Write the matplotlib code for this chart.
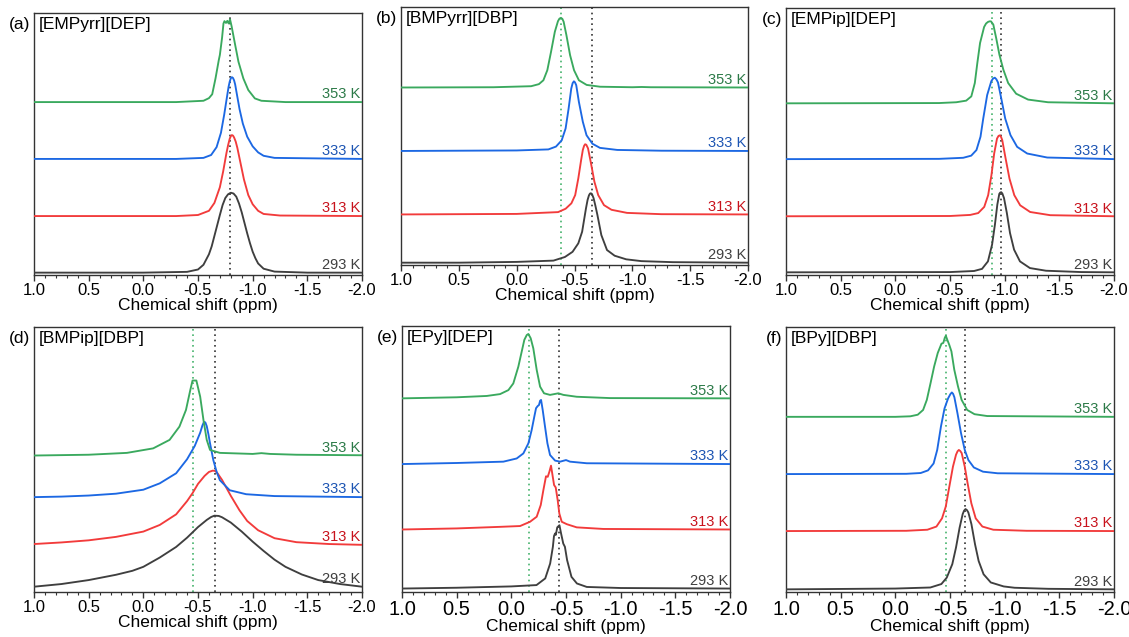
import matplotlib
matplotlib.use('Agg')
import matplotlib.pyplot as plt
from matplotlib.ticker import MultipleLocator, FormatStrFormatter

plt.rcParams['font.family'] = ['Liberation Sans', 'DejaVu Sans']
plt.rcParams['axes.unicode_minus'] = False

# ---- data: (shift ppm, intensity above baseline) ----
temps = ['293 K', '313 K', '333 K', '353 K']
titles = ['[EMPyrr][DEP]', '[BMPyrr][DBP]', '[EMPip][DEP]',
          '[BMPip][DBP]', '[EPy][DEP]', '[BPy][DBP]']
letters = ['(a)', '(b)', '(c)', '(d)', '(e)', '(f)']
green_ref = [None, -0.38, -0.88, -0.455, -0.165, -0.465]
black_ref = [-0.795, -0.65, -0.963, -0.656, -0.44, -0.64]

A_293 = [(1.0, 0.0), (0.0, 0.0), (-0.40, 0.003), (-0.50, 0.012), (-0.55, 0.03), (-0.60, 0.07), (-0.625, 0.10),
         (-0.65, 0.14), (-0.675, 0.18), (-0.70, 0.22), (-0.725, 0.258), (-0.75, 0.285), (-0.775, 0.299),
         (-0.80, 0.305), (-0.825, 0.302), (-0.85, 0.29), (-0.875, 0.264), (-0.90, 0.23), (-0.925, 0.19),
         (-0.95, 0.15), (-0.975, 0.113), (-1.00, 0.08), (-1.025, 0.055), (-1.05, 0.035), (-1.10, 0.015),
         (-1.20, 0.004), (-1.50, 0.0), (-2.0, 0.0)]
A_313 = [(1.0, 0.0), (-0.3, 0.0), (-0.5, 0.004), (-0.6, 0.02), (-0.65, 0.05), (-0.70, 0.11), (-0.73, 0.17),
         (-0.76, 0.24), (-0.775, 0.27), (-0.79, 0.295), (-0.80, 0.305), (-0.81, 0.309), (-0.82, 0.307),
         (-0.83, 0.30), (-0.845, 0.284), (-0.86, 0.26), (-0.89, 0.20), (-0.92, 0.14), (-0.96, 0.08),
         (-1.00, 0.045), (-1.05, 0.02), (-1.10, 0.008), (-1.25, 0.002), (-2.0, 0.0)]
A_333 = [(1.0, 0.0), (-0.3, 0.0), (-0.55, 0.004), (-0.62, 0.015), (-0.67, 0.045), (-0.71, 0.10), (-0.74, 0.17),
         (-0.77, 0.25), (-0.78, 0.276), (-0.79, 0.295), (-0.80, 0.308), (-0.81, 0.312), (-0.82, 0.309),
         (-0.83, 0.30), (-0.84, 0.284), (-0.85, 0.26), (-0.88, 0.19), (-0.91, 0.135), (-0.95, 0.085),
         (-1.00, 0.048), (-1.05, 0.025), (-1.10, 0.012), (-1.2, 0.004), (-2.0, 0.0)]
A_353 = [(1.0, 0.0), (-0.3, 0.0), (-0.55, 0.005), (-0.60, 0.015), (-0.63, 0.03), (-0.66, 0.09), (-0.69, 0.16),
         (-0.70, 0.18), (-0.72, 0.245), (-0.733, 0.30), (-0.742, 0.309), (-0.756, 0.302), (-0.768, 0.31),
         (-0.78, 0.30), (-0.793, 0.316), (-0.808, 0.288), (-0.84, 0.218), (-0.87, 0.154), (-0.915, 0.09),
         (-0.96, 0.046), (-1.02, 0.014), (-1.08, 0.005), (-1.3, 0.0), (-2.0, 0.0)]

B_293 = [(1.0, 0.0), (0.5, 0.0), (0.0, 0.003), (-0.318, 0.008), (-0.417, 0.022), (-0.483, 0.042), (-0.533, 0.075),
         (-0.566, 0.12), (-0.599, 0.21), (-0.613, 0.243), (-0.625, 0.261), (-0.634, 0.268), (-0.642, 0.269),
         (-0.651, 0.266), (-0.665, 0.25), (-0.680, 0.222), (-0.698, 0.185), (-0.732, 0.107), (-0.781, 0.049),
         (-0.847, 0.027), (-0.947, 0.013), (-1.079, 0.006), (-1.35, 0.002), (-2.0, 0.0)]
B_313 = [(1.0, 0.0), (0.0, 0.002), (-0.358, 0.009), (-0.423, 0.022), (-0.473, 0.043), (-0.506, 0.075),
         (-0.533, 0.14), (-0.557, 0.21), (-0.572, 0.25), (-0.583, 0.266), (-0.592, 0.272), (-0.602, 0.27),
         (-0.617, 0.256), (-0.640, 0.204), (-0.672, 0.127), (-0.705, 0.075), (-0.755, 0.036), (-0.820, 0.018),
         (-0.954, 0.006), (-1.25, 0.001), (-2.0, 0.0)]
B_333 = [(1.0, 0.0), (0.0, 0.002), (-0.274, 0.006), (-0.34, 0.017), (-0.389, 0.041), (-0.423, 0.087),
         (-0.449, 0.164), (-0.472, 0.242), (-0.484, 0.263), (-0.495, 0.27), (-0.504, 0.266), (-0.515, 0.255),
         (-0.538, 0.19), (-0.572, 0.113), (-0.604, 0.061), (-0.655, 0.028), (-0.72, 0.012), (-0.869, 0.004),
         (-1.25, 0.001), (-2.0, 0.0)]
B_353 = [(1.0, 0.0), (0.2, 0.001), (-0.125, 0.005), (-0.192, 0.013), (-0.231, 0.028), (-0.265, 0.067),
         (-0.297, 0.138), (-0.330, 0.216), (-0.357, 0.257), (-0.370, 0.267), (-0.383, 0.27), (-0.395, 0.266),
         (-0.406, 0.255), (-0.430, 0.203), (-0.462, 0.125), (-0.496, 0.067), (-0.538, 0.028), (-0.605, 0.01),
         (-0.721, 0.003), (-1.0, 0.001), (-1.08, 0.002), (-1.16, 0.001), (-2.0, 0.0)]

C_293 = [(1.0, 0.0), (-0.5, 0.001), (-0.720, 0.005), (-0.793, 0.013), (-0.847, 0.041), (-0.885, 0.104),
         (-0.911, 0.179), (-0.933, 0.254), (-0.951, 0.294), (-0.960, 0.299), (-0.969, 0.30), (-0.979, 0.295),
         (-0.994, 0.278), (-1.020, 0.222), (-1.049, 0.147), (-1.086, 0.085), (-1.140, 0.041), (-1.231, 0.016),
         (-1.378, 0.006), (-1.7, 0.001), (-2.0, 0.0)]
C_313 = [(1.0, 0.0), (-0.5, 0.001), (-0.685, 0.005), (-0.758, 0.012), (-0.813, 0.035), (-0.849, 0.079),
         (-0.879, 0.154), (-0.904, 0.235), (-0.930, 0.291), (-0.944, 0.301), (-0.956, 0.303), (-0.967, 0.297),
         (-0.978, 0.285), (-1.006, 0.222), (-1.044, 0.141), (-1.088, 0.079), (-1.142, 0.041), (-1.233, 0.016),
         (-1.417, 0.004), (-2.0, 0.0)]
C_333 = [(1.0, 0.0), (-0.4, 0.001), (-0.621, 0.005), (-0.694, 0.013), (-0.742, 0.034), (-0.779, 0.084),
         (-0.804, 0.152), (-0.840, 0.24), (-0.878, 0.292), (-0.894, 0.302), (-0.91, 0.305), (-0.924, 0.299),
         (-0.939, 0.287), (-0.969, 0.227), (-1.005, 0.152), (-1.053, 0.09), (-1.114, 0.046), (-1.206, 0.021),
         (-1.389, 0.006), (-2.0, 0.0)]
C_353 = [(1.0, 0.0), (-0.4, 0.001), (-0.557, 0.004), (-0.648, 0.01), (-0.695, 0.026), (-0.727, 0.076),
         (-0.75, 0.151), (-0.775, 0.226), (-0.812, 0.286), (-0.83, 0.299), (-0.848, 0.305), (-0.862, 0.307),
         (-0.875, 0.307), (-0.896, 0.295), (-0.922, 0.245), (-0.952, 0.182), (-0.988, 0.126), (-1.032, 0.076),
         (-1.105, 0.036), (-1.214, 0.014), (-1.397, 0.004), (-2.0, 0.0)]

D_293 = [(1.0, 0.02), (0.75, 0.03), (0.5, 0.045), (0.25, 0.065), (0.1, 0.08), (0.0, 0.095), (-0.15, 0.13),
         (-0.3, 0.17), (-0.4, 0.205), (-0.5, 0.245), (-0.58, 0.272), (-0.62, 0.283), (-0.65, 0.288),
         (-0.69, 0.287), (-0.72, 0.282), (-0.8, 0.262), (-0.9, 0.228), (-1.0, 0.19), (-1.1, 0.155),
         (-1.2, 0.122), (-1.3, 0.095), (-1.45, 0.066), (-1.6, 0.045), (-1.8, 0.03), (-2.0, 0.02)]
D_313 = [(1.0, 0.008), (0.75, 0.014), (0.5, 0.022), (0.25, 0.035), (0.0, 0.055), (-0.15, 0.08), (-0.3, 0.12),
         (-0.4, 0.17), (-0.45, 0.2), (-0.5, 0.235), (-0.56, 0.265), (-0.6, 0.28), (-0.635, 0.285),
         (-0.655, 0.284), (-0.675, 0.277), (-0.72, 0.25), (-0.8, 0.19), (-0.88, 0.135), (-0.95, 0.095),
         (-1.05, 0.06), (-1.2, 0.03), (-1.4, 0.015), (-1.7, 0.008), (-2.0, 0.005)]
D_333 = [(1.0, 0.002), (0.75, 0.004), (0.5, 0.008), (0.25, 0.015), (0.0, 0.03), (-0.15, 0.054), (-0.3, 0.092),
         (-0.4, 0.145), (-0.47, 0.195), (-0.52, 0.245), (-0.54, 0.272), (-0.555, 0.286), (-0.567, 0.284),
         (-0.58, 0.27), (-0.595, 0.24), (-0.61, 0.205), (-0.64, 0.142), (-0.67, 0.098), (-0.70, 0.066),
         (-0.79, 0.028), (-0.94, 0.013), (-1.2, 0.006), (-2.0, 0.002)]
D_353 = [(1.0, 0.002), (0.5, 0.005), (0.15, 0.012), (-0.09, 0.029), (-0.24, 0.061), (-0.33, 0.111),
         (-0.39, 0.174), (-0.43, 0.25), (-0.45, 0.285), (-0.485, 0.285), (-0.52, 0.224), (-0.55, 0.136),
         (-0.58, 0.061), (-0.61, 0.023), (-0.70, 0.012), (-1.0, 0.008), (-1.08, 0.011), (-1.16, 0.008),
         (-1.4, 0.005), (-2.0, 0.003)]

E_293 = [(1.0, 0.0), (0.5, 0.003), (0.0, 0.008), (-0.23, 0.013), (-0.31, 0.038), (-0.355, 0.094),
         (-0.38, 0.157), (-0.39, 0.197), (-0.40, 0.207), (-0.407, 0.202), (-0.42, 0.23), (-0.44, 0.238),
         (-0.455, 0.207), (-0.475, 0.169), (-0.49, 0.157), (-0.51, 0.107), (-0.55, 0.044), (-0.60, 0.019),
         (-0.69, 0.006), (-1.0, 0.002), (-2.0, 0.0)]
E_313 = [(1.0, 0.0), (0.5, 0.004), (0.1, 0.01), (-0.08, 0.013), (-0.171, 0.029), (-0.232, 0.048),
         (-0.269, 0.092), (-0.293, 0.148), (-0.317, 0.2), (-0.333, 0.198), (-0.348, 0.217), (-0.363, 0.24),
         (-0.379, 0.198), (-0.391, 0.167), (-0.406, 0.158), (-0.424, 0.11), (-0.439, 0.06), (-0.461, 0.029),
         (-0.507, 0.02), (-0.537, 0.016), (-0.598, 0.008), (-0.842, 0.002), (-2.0, 0.0)]
E_333 = [(1.0, 0.0), (0.5, 0.004), (0.073, 0.009), (-0.049, 0.021), (-0.11, 0.04), (-0.156, 0.078),
         (-0.186, 0.128), (-0.21, 0.178), (-0.226, 0.21), (-0.241, 0.218), (-0.253, 0.222), (-0.263, 0.238),
         (-0.272, 0.241), (-0.287, 0.203), (-0.308, 0.141), (-0.33, 0.078), (-0.354, 0.034), (-0.40, 0.013),
         (-0.446, 0.009), (-0.50, 0.015), (-0.537, 0.009), (-0.69, 0.003), (-2.0, 0.0)]
E_353 = [(1.0, 0.0), (0.5, 0.004), (0.225, 0.009), (0.103, 0.016), (0.027, 0.031), (-0.018, 0.056),
         (-0.064, 0.119), (-0.095, 0.176), (-0.119, 0.22), (-0.141, 0.238), (-0.156, 0.242), (-0.177, 0.226),
         (-0.201, 0.188), (-0.232, 0.107), (-0.263, 0.044), (-0.299, 0.019), (-0.354, 0.013), (-0.43, 0.019),
         (-0.476, 0.013), (-0.598, 0.006), (-0.903, 0.001), (-2.0, 0.0)]

F_293 = [(1.0, 0.0), (0.0, 0.003), (-0.32, 0.007), (-0.421, 0.02), (-0.47, 0.044), (-0.521, 0.095),
         (-0.555, 0.158), (-0.588, 0.233), (-0.616, 0.284), (-0.629, 0.297), (-0.642, 0.303), (-0.655, 0.299),
         (-0.668, 0.29), (-0.696, 0.246), (-0.729, 0.17), (-0.762, 0.107), (-0.807, 0.057), (-0.873, 0.026),
         (-0.991, 0.011), (-1.091, 0.006), (-1.4, 0.002), (-2.0, 0.0)]
F_313 = [(1.0, 0.0), (-0.1, 0.001), (-0.293, 0.005), (-0.376, 0.017), (-0.427, 0.048), (-0.461, 0.092),
         (-0.494, 0.168), (-0.527, 0.243), (-0.555, 0.288), (-0.569, 0.301), (-0.581, 0.306), (-0.594, 0.302),
         (-0.607, 0.294), (-0.635, 0.243), (-0.661, 0.18), (-0.695, 0.105), (-0.735, 0.048), (-0.796, 0.017),
         (-0.896, 0.005), (-1.2, 0.001), (-2.0, 0.0)]
F_333 = [(1.0, 0.0), (-0.1, 0.001), (-0.232, 0.004), (-0.299, 0.014), (-0.35, 0.04), (-0.383, 0.091),
         (-0.417, 0.179), (-0.45, 0.248), (-0.483, 0.286), (-0.504, 0.302), (-0.517, 0.308), (-0.528, 0.303),
         (-0.54, 0.29), (-0.568, 0.23), (-0.601, 0.154), (-0.635, 0.091), (-0.668, 0.053), (-0.718, 0.025),
         (-0.802, 0.009), (-0.936, 0.003), (-2.0, 0.0)]
F_353 = [(1.0, 0.0), (0.0, 0.0), (-0.137, 0.002), (-0.205, 0.008), (-0.254, 0.026), (-0.288, 0.064),
         (-0.322, 0.127), (-0.355, 0.19), (-0.388, 0.241), (-0.422, 0.276), (-0.439, 0.279), (-0.452, 0.298),
         (-0.462, 0.306), (-0.475, 0.291), (-0.493, 0.272), (-0.513, 0.247), (-0.539, 0.178), (-0.573, 0.115),
         (-0.606, 0.064), (-0.657, 0.026), (-0.724, 0.01), (-0.84, 0.003), (-2.0, 0.0)]

spectra = [[A_293, A_313, A_333, A_353], [B_293, B_313, B_333, B_353], [C_293, C_313, C_333, C_353],
           [D_293, D_313, D_333, D_353], [E_293, E_313, E_333, E_353], [F_293, F_313, F_333, F_353]]

# ---- layout / style ----
W, H = 1129, 637
# axes boxes in pixels: left, top, right, bottom
boxes = [(34, 13, 362, 275), (401, 7, 748, 265), (786, 8, 1114, 275),
         (34, 327, 362, 592), (402, 326, 730, 592), (786, 327, 1114, 592)]
offsets = [[0.009, 0.225, 0.443, 0.660], [0.009, 0.196, 0.442, 0.688], [0.010, 0.220, 0.434, 0.643],
           [0.0, 0.173, 0.356, 0.513], [0.013, 0.235, 0.481, 0.728], [0.010, 0.230, 0.445, 0.661]]
tick_fs = [12, 12, 12, 12, 14.5, 14.5]
line_colors = ['#3f3f3f', '#f23b3b', '#1c68e3', '#3aa95e']
text_colors = ['#3f3f3f', '#c8121c', '#1d55b3', '#2c7a48']


def draw_panel(ax, i):
    for k in range(4):
        pts = spectra[i][k]
        xs = [p[0] for p in pts]
        ys = [p[1] + offsets[i][k] for p in pts]
        ax.plot(xs, ys, color=line_colors[k], lw=1.35, zorder=3, solid_joinstyle='round')
        ax.text(0.994, ys[-1] + 0.014, temps[k], color=text_colors[k], fontsize=10.5,
                ha='right', va='baseline', transform=ax.get_yaxis_transform(), zorder=4)
    if green_ref[i] is not None:
        ax.axvline(green_ref[i], color='#45b36c', ls=(0, (1, 2.2)), lw=1.2, zorder=2)
    ax.axvline(black_ref[i], color='#333333', ls=(0, (1, 2.2)), lw=1.2, zorder=2)

    ax.set_xlim(1.0, -2.0)
    ax.set_ylim(0, 1)
    ax.set_yticks([])
    ax.xaxis.set_major_locator(MultipleLocator(0.5))
    ax.xaxis.set_minor_locator(MultipleLocator(0.1))
    ax.xaxis.set_major_formatter(FormatStrFormatter('%.1f'))
    ax.tick_params(axis='x', which='major', direction='out', length=4, width=1,
                   labelsize=tick_fs[i], pad=2, color='#333333')
    ax.tick_params(axis='x', which='minor', direction='out', length=2, width=0.8, color='#333333')
    ax.set_xlabel('Chemical shift (ppm)', fontsize=12.5, labelpad=0)
    for s in ax.spines.values():
        s.set_color('#333333')
        s.set_linewidth(1.0)
    ax.text(0.013, 0.985, titles[i], fontsize=12.5, ha='left', va='top', transform=ax.transAxes)
    ax.text(-0.012, 0.985, letters[i], fontsize=12.5, ha='right', va='top', transform=ax.transAxes)


def main():
    fig = plt.figure(figsize=(W / 100, H / 100), dpi=100)
    for i in range(6):
        l, t, r, b = boxes[i]
        ax = fig.add_axes([l / W, (H - b) / H, (r - l) / W, (b - t) / H])
        draw_panel(ax, i)
    fig.savefig('out.png', dpi=100)
    plt.close()


if __name__ == '__main__':
    main()
